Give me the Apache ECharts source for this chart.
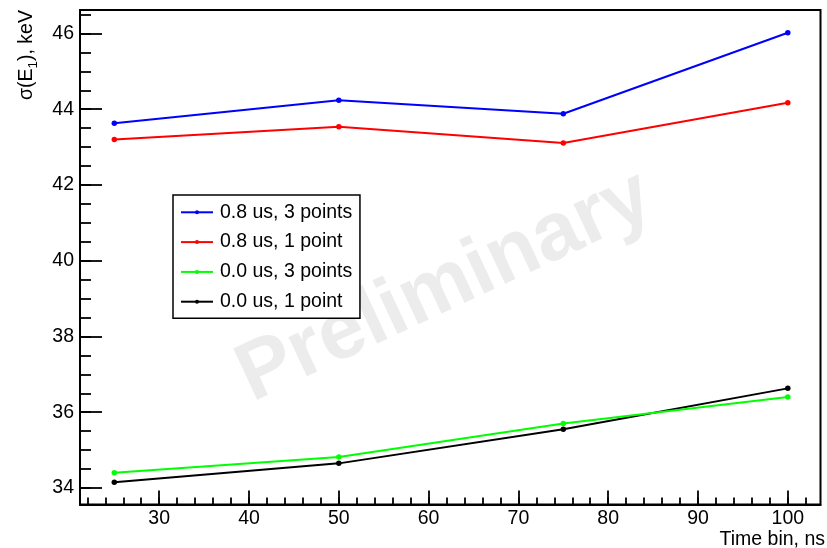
<!DOCTYPE html>
<html><head><meta charset="utf-8">
<script src="https://cdn.jsdelivr.net/npm/echarts@6/dist/echarts.min.js"></script>
<style>html,body{margin:0;padding:0;background:#fff}#c{width:827px;height:548px}</style>
</head><body><div id="c"></div>
<script>
// ---- data ----
const timeBins = [25, 50, 75, 100];
const seriesNames = ['0.8 us, 3 points', '0.8 us, 1 point', '0.0 us, 3 points', '0.0 us, 1 point'];
const sigma08us3pt = [43.63, 44.24, 43.88, 46.02];
const sigma08us1pt = [43.20, 43.54, 43.11, 44.17];
const sigma00us3pt = [34.40, 34.82, 35.70, 36.40];
const sigma00us1pt = [34.15, 34.65, 35.55, 36.63];
const seriesColors = ['#0000ff', '#ff0000', '#00ff00', '#000000'];
const xMajorTicks = [30, 40, 50, 60, 70, 80, 90, 100];
const xMinorTicks = [22, 24, 26, 28, 30, 32, 34, 36, 38, 40, 42, 44, 46, 48, 50, 52, 54, 56, 58, 60, 62, 64, 66, 68, 70, 72, 74, 76, 78, 80, 82, 84, 86, 88, 90, 92, 94, 96, 98, 100, 102];
const yMajorTicks = [34, 36, 38, 40, 42, 44, 46];
const yMinorTicks = [34, 34.5, 35, 35.5, 36, 36.5, 37, 37.5, 38, 38.5, 39, 39.5, 40, 40.5, 41, 41.5, 42, 42.5, 43, 43.5, 44, 44.5, 45, 45.5, 46, 46.5];
const xTitle = 'Time bin, ns';
const yTitleParts = ['σ(E', '1', '), keV'];
const watermark = 'Preliminary';

// ---- chart ----
const FONT = '"Liberation Sans", Arial, Helvetica, sans-serif';
const FS = 19.5;
const chart = echarts.init(document.getElementById('c'), null, {renderer: 'canvas'});
const allValues = [sigma08us3pt, sigma08us1pt, sigma00us3pt, sigma00us1pt];

const XMIN = 21.18, XMAX = 103.64, YMIN = 33.564, YMAX = 46.62;

const mctx = document.createElement('canvas').getContext('2d');
function tw(t, size) { mctx.font = size + 'px ' + FONT; return mctx.measureText(t).width; }
const SUB = 13.5;
const w0 = tw(yTitleParts[0], FS), w1 = tw(yTitleParts[1], SUB);
const mid = 0.3465;

const option = {
  animation: false,
  backgroundColor: '#ffffff',
  grid: {left: 80, top: 10, right: 6.5, bottom: 43.5, show: true, borderColor: '#000', borderWidth: 2, backgroundColor: 'transparent', outerBoundsMode: 'none'},
  xAxis: [
    {type: 'value', min: XMIN, max: XMAX, position: 'bottom',
     axisLine: {show: true, onZero: false, lineStyle: {color: '#000', width: 2}},
     axisTick: {show: true, inside: true, length: 14, customValues: xMajorTicks, lineStyle: {color: '#000', width: 1.8}},
     axisLabel: {show: true, customValues: xMajorTicks, margin: 4, color: '#000', fontSize: FS, fontFamily: FONT},
     splitLine: {show: false}},
    {type: 'value', min: XMIN, max: XMAX, position: 'bottom', offset: 0,
     axisLine: {show: false, onZero: false},
     axisTick: {show: true, inside: true, length: 7, customValues: xMinorTicks, lineStyle: {color: '#000', width: 1.8}},
     axisLabel: {show: false}, splitLine: {show: false}}
  ],
  yAxis: [
    {type: 'value', min: YMIN, max: YMAX, position: 'left',
     axisLine: {show: true, onZero: false, lineStyle: {color: '#000', width: 2}},
     axisTick: {show: true, inside: true, length: 22, customValues: yMajorTicks, lineStyle: {color: '#000', width: 1.8}},
     axisLabel: {show: true, customValues: yMajorTicks, margin: 6, color: '#000', fontSize: FS, fontFamily: FONT},
     splitLine: {show: false}},
    {type: 'value', min: YMIN, max: YMAX, position: 'left', offset: 0,
     axisLine: {show: false, onZero: false},
     axisTick: {show: true, inside: true, length: 11, customValues: yMinorTicks, lineStyle: {color: '#000', width: 1.8}},
     axisLabel: {show: false}, splitLine: {show: false}}
  ],
  legend: {
    orient: 'vertical', left: 173, top: 195,
    itemWidth: 32, itemHeight: 5, itemGap: 9.8,
    padding: [7.3, 7.7, 6.6, 7],
    borderColor: '#000', borderWidth: 1.5, backgroundColor: '#fff',
    textStyle: {fontSize: FS, fontFamily: FONT, color: '#000', lineHeight: 20, padding: [0, 0, 0, 2]},
    data: seriesNames
  },
  graphic: [
    {type: 'text', x: 445, y: 287, rotation: 25 * Math.PI / 180, z: -10, silent: true,
     style: {text: watermark, font: 'bold 82px ' + FONT, fill: '#ececec', align: 'center', verticalAlign: 'middle'}},
    {type: 'text', x: 825, y: 540, silent: true,
     style: {text: xTitle, font: FS + 'px ' + FONT, fill: '#000', align: 'right', verticalAlign: 'middle'}},
    {type: 'group', x: 33, y: 100, rotation: Math.PI / 2, silent: true, children: [
      {type: 'text', x: 0, y: -mid * FS, style: {text: yTitleParts[0], font: FS + 'px ' + FONT, fill: '#000', align: 'left', verticalAlign: 'middle'}},
      {type: 'text', x: w0, y: 4.5 - mid * SUB, style: {text: yTitleParts[1], font: SUB + 'px ' + FONT, fill: '#000', align: 'left', verticalAlign: 'middle'}},
      {type: 'text', x: w0 + w1, y: -mid * FS, style: {text: yTitleParts[2], font: FS + 'px ' + FONT, fill: '#000', align: 'left', verticalAlign: 'middle'}}
    ]}
  ],
  series: seriesNames.map((name, i) => ({
    name: name, type: 'line', xAxisIndex: 0, yAxisIndex: 0,
    data: timeBins.map((t, j) => [t, allValues[i][j]]),
    symbol: 'circle', symbolSize: 5.5, showSymbol: true,
    lineStyle: {color: seriesColors[i], width: 2},
    itemStyle: {color: seriesColors[i]},
    z: 10 - i
  }))
};
chart.setOption(option);
</script>
</body></html>
